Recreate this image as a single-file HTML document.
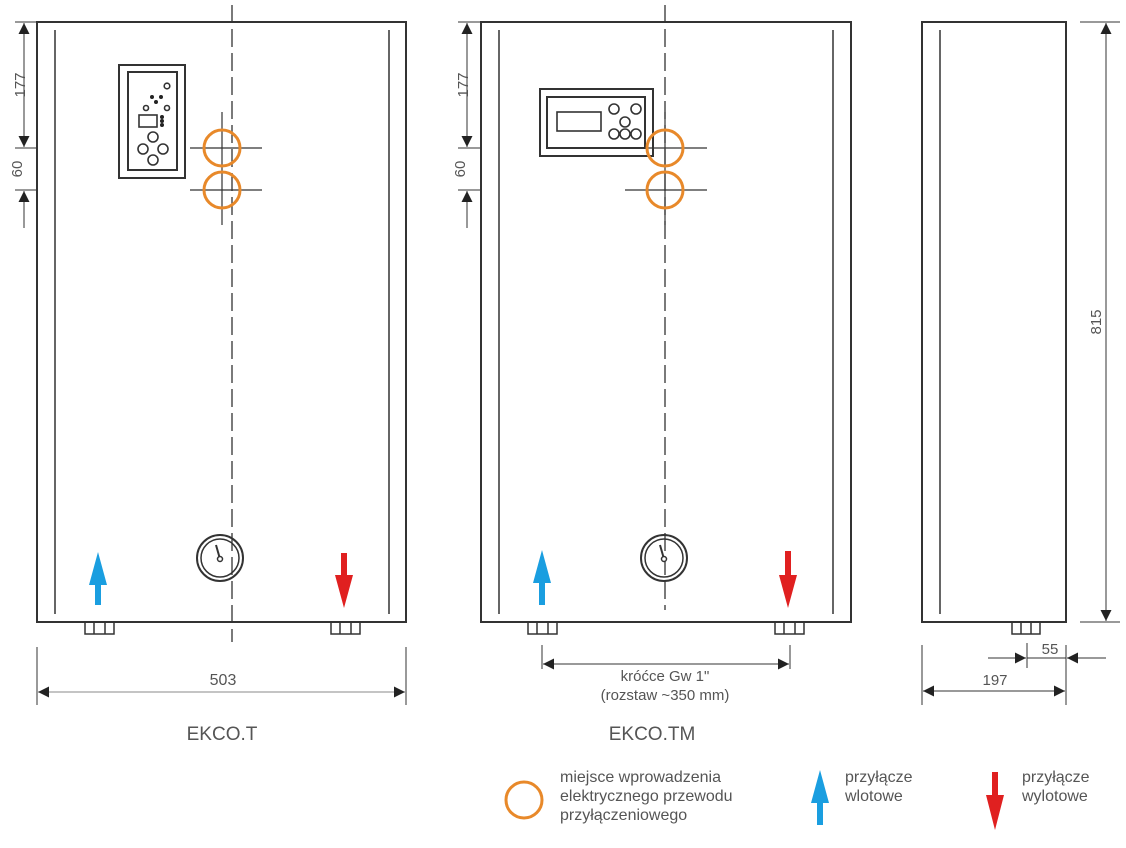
<!DOCTYPE html>
<html><head><meta charset="utf-8"><style>
body{margin:0;background:#fff}
text{font-family:"Liberation Sans",sans-serif;fill:#555}
</style></head><body>
<svg width="1126" height="843" viewBox="0 0 1126 843" xmlns="http://www.w3.org/2000/svg">
<defs>
<marker id="a" viewBox="0 0 10 10" refX="10" refY="5" markerWidth="26" markerHeight="11" markerUnits="userSpaceOnUse" orient="auto-start-reverse"><path d="M0,0L10,5L0,10z" fill="#222"/></marker>
</defs>
<g stroke="#333" fill="none">
<rect x="37" y="22" width="369" height="600" stroke-width="2" fill="#fff"/>
<line x1="55" y1="30" x2="55" y2="614" stroke-width="1.5"/>
<line x1="389" y1="30" x2="389" y2="614" stroke-width="1.5"/>
<line x1="232" y1="5" x2="232" y2="642" stroke-dasharray="18,6" stroke-width="1.3"/>
<rect x="119" y="65" width="66" height="113" stroke-width="2"/>
<rect x="128" y="72" width="49" height="98" stroke-width="2"/>
<g stroke-width="1.6">
<circle cx="167" cy="86" r="2.8"/><circle cx="146" cy="108" r="2.5"/><circle cx="167" cy="108" r="2.5"/>
<rect x="139" y="115" width="18" height="12"/>
<circle cx="153" cy="137" r="5"/><circle cx="143" cy="149" r="5"/><circle cx="163" cy="149" r="5"/><circle cx="153" cy="160" r="5"/>
</g>
<g fill="#222" stroke="none"><circle cx="152" cy="97" r="2"/><circle cx="161" cy="97" r="2"/><circle cx="156" cy="102" r="2"/><circle cx="162" cy="117" r="2"/><circle cx="162" cy="121" r="2"/><circle cx="162" cy="125" r="2"/></g>
<g stroke-width="1.2"><line x1="190" y1="148" x2="262" y2="148"/><line x1="190" y1="190" x2="262" y2="190"/><line x1="222" y1="112" x2="222" y2="225"/></g>
<circle cx="220" cy="558" r="23" stroke-width="2"/><circle cx="220" cy="558" r="19" stroke-width="1.5"/>
<line x1="220" y1="559" x2="216" y2="545" stroke-width="2"/><circle cx="220" cy="559" r="2.5" fill="#fff" stroke-width="1.5"/>
<path d="M85,622v12h29v-12M94,622v12M105,622v12" stroke-width="1.5"/>
<path d="M331,622v12h29v-12M340,622v12M351,622v12" stroke-width="1.5"/>
<g stroke-width="1"><line x1="15" y1="22" x2="37" y2="22"/><line x1="15" y1="148" x2="37" y2="148"/><line x1="15" y1="190" x2="37" y2="190"/>
<line x1="24" y1="23" x2="24" y2="147" marker-start="url(#a)" marker-end="url(#a)"/>
<line x1="24" y1="191" x2="24" y2="228" marker-start="url(#a)"/>
<line x1="37" y1="647" x2="37" y2="705"/><line x1="406" y1="647" x2="406" y2="705"/>
<line x1="38" y1="692" x2="405" y2="692" stroke="#888" marker-start="url(#a)" marker-end="url(#a)"/></g>

<rect x="481" y="22" width="370" height="600" stroke-width="2" fill="#fff"/>
<line x1="499" y1="30" x2="499" y2="614" stroke-width="1.5"/>
<line x1="833" y1="30" x2="833" y2="614" stroke-width="1.5"/>
<line x1="665" y1="5" x2="665" y2="610" stroke-dasharray="18,6" stroke-width="1.3"/>
<rect x="540" y="89" width="113" height="67" stroke-width="2"/>
<rect x="547" y="97" width="98" height="51" stroke-width="2"/>
<g stroke-width="1.6"><rect x="557" y="112" width="44" height="19"/>
<circle cx="614" cy="109" r="5"/><circle cx="636" cy="109" r="5"/><circle cx="625" cy="122" r="5"/><circle cx="614" cy="134" r="5"/><circle cx="625" cy="134" r="5"/><circle cx="636" cy="134" r="5"/></g>
<g stroke-width="1.2"><line x1="625" y1="148" x2="707" y2="148"/><line x1="625" y1="190" x2="707" y2="190"/><line x1="665" y1="112" x2="665" y2="225"/></g>
<circle cx="664" cy="558" r="23" stroke-width="2"/><circle cx="664" cy="558" r="19" stroke-width="1.5"/>
<line x1="664" y1="559" x2="660" y2="545" stroke-width="2"/><circle cx="664" cy="559" r="2.5" fill="#fff" stroke-width="1.5"/>
<path d="M528,622v12h29v-12M537,622v12M548,622v12" stroke-width="1.5"/>
<path d="M775,622v12h29v-12M784,622v12M795,622v12" stroke-width="1.5"/>
<g stroke-width="1"><line x1="458" y1="22" x2="481" y2="22"/><line x1="458" y1="148" x2="481" y2="148"/><line x1="458" y1="190" x2="481" y2="190"/>
<line x1="467" y1="23" x2="467" y2="147" marker-start="url(#a)" marker-end="url(#a)"/>
<line x1="467" y1="191" x2="467" y2="228" marker-start="url(#a)"/>
<line x1="542" y1="645" x2="542" y2="669"/><line x1="790" y1="645" x2="790" y2="669"/>
<line x1="543" y1="664" x2="789" y2="664" marker-start="url(#a)" marker-end="url(#a)"/></g>

<rect x="922" y="22" width="144" height="600" stroke-width="2" fill="#fff"/>
<line x1="940" y1="30" x2="940" y2="614" stroke-width="1.5"/>
<path d="M1012,622v12h28v-12M1021,622v12M1031,622v12" stroke-width="1.5"/>
<g stroke-width="1"><line x1="1080" y1="22" x2="1120" y2="22"/><line x1="1080" y1="622" x2="1120" y2="622"/>
<line x1="1106" y1="23" x2="1106" y2="621" marker-start="url(#a)" marker-end="url(#a)"/>
<line x1="1027" y1="643" x2="1027" y2="668"/><line x1="1066" y1="645" x2="1066" y2="705"/><line x1="922" y1="645" x2="922" y2="705"/>
<line x1="988" y1="658" x2="1026" y2="658" marker-end="url(#a)"/><line x1="1027" y1="658" x2="1066" y2="658"/>
<line x1="1106" y1="658" x2="1067" y2="658" marker-end="url(#a)"/>
<line x1="923" y1="691" x2="1065" y2="691" marker-start="url(#a)" marker-end="url(#a)"/></g>
</g>
<g stroke="#e8892a" stroke-width="3" fill="none">
<circle cx="222" cy="148" r="18"/><circle cx="222" cy="190" r="18"/>
<circle cx="665" cy="148" r="18"/><circle cx="665" cy="190" r="18"/>
<circle cx="524" cy="800" r="18"/>
</g>
<g fill="#1a9ee0"><path d="M98,552L107,585H101V605H95V585H89z"/><path d="M542,550L551,583H545V605H539V583H533z"/><path d="M820,770L829,803H823V825H817V803H811z"/></g>
<g fill="#e02020"><path d="M344,608L353,575H347V553H341V575H335z"/><path d="M788,608L797,575H791V551H785V575H779z"/><path d="M995,830L1004,795H998V772H992V795H986z"/></g>
<text x="20" y="85" font-size="15" text-anchor="middle" transform="rotate(-90 20 85)" dy="5">177</text>
<text x="17" y="169" font-size="15" text-anchor="middle" transform="rotate(-90 17 169)" dy="5">60</text>
<text x="463" y="85" font-size="15" text-anchor="middle" transform="rotate(-90 463 85)" dy="5">177</text>
<text x="460" y="169" font-size="15" text-anchor="middle" transform="rotate(-90 460 169)" dy="5">60</text>
<text x="1096" y="322" font-size="15" text-anchor="middle" transform="rotate(-90 1096 322)" dy="5">815</text>
<text x="223" y="685" font-size="16" text-anchor="middle">503</text>
<text x="665" y="681" font-size="15" text-anchor="middle">króćce Gw 1"</text>
<text x="665" y="700" font-size="15" text-anchor="middle">(rozstaw ~350 mm)</text>
<text x="1050" y="654" font-size="15" text-anchor="middle">55</text>
<text x="995" y="685" font-size="15" text-anchor="middle">197</text>
<text x="222" y="740" font-size="19" text-anchor="middle">EKCO.T</text>
<text x="652" y="740" font-size="19" text-anchor="middle">EKCO.TM</text>
<g font-size="16"><text x="560" y="782">miejsce wprowadzenia</text><text x="560" y="801">elektrycznego przewodu</text><text x="560" y="820">przyłączeniowego</text>
<text x="845" y="782">przyłącze</text><text x="845" y="801">wlotowe</text>
<text x="1022" y="782">przyłącze</text><text x="1022" y="801">wylotowe</text></g>
</svg>
</body></html>
